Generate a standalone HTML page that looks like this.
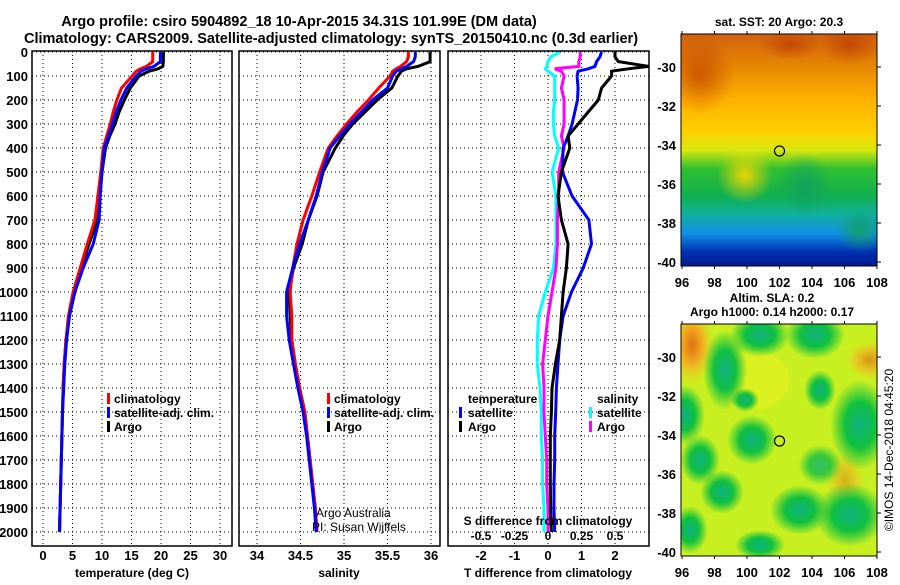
<!DOCTYPE html>
<html><head><meta charset="utf-8"><style>
body{margin:0;background:#fff;}
svg text{font-family:"Liberation Sans",sans-serif;font-weight:bold;}
</style></head><body>
<svg id="c" width="900" height="580" viewBox="0 0 900 580" xmlns="http://www.w3.org/2000/svg">
<defs>
<linearGradient id="sstg" x1="0" y1="0" x2="0" y2="1">
<stop offset="0" stop-color="#d06010"/><stop offset="0.15" stop-color="#e88a00"/><stop offset="0.28" stop-color="#ffb000"/><stop offset="0.42" stop-color="#ffd000"/><stop offset="0.5" stop-color="#d8e810"/><stop offset="0.58" stop-color="#30c030"/><stop offset="0.7" stop-color="#10b050"/><stop offset="0.78" stop-color="#10b0a0"/><stop offset="0.86" stop-color="#1090e8"/><stop offset="0.94" stop-color="#0030b0"/><stop offset="1" stop-color="#001a90"/>
</linearGradient>
<radialGradient id="gb"><stop offset="0" stop-color="#10b080"/><stop offset="0.5" stop-color="#10c040"/><stop offset="1" stop-color="#10c040" stop-opacity="0"/></radialGradient>
<radialGradient id="ob"><stop offset="0" stop-color="#e07010"/><stop offset="0.5" stop-color="#f0b020"/><stop offset="1" stop-color="#f0d020" stop-opacity="0"/></radialGradient>
<radialGradient id="rb"><stop offset="0" stop-color="#b83000" stop-opacity="0.6"/><stop offset="1" stop-color="#b83000" stop-opacity="0"/></radialGradient>
<radialGradient id="yb"><stop offset="0" stop-color="#ffd800" stop-opacity="0.9"/><stop offset="1" stop-color="#ffd800" stop-opacity="0"/></radialGradient>
<radialGradient id="gs"><stop offset="0" stop-color="#10a060" stop-opacity="0.9"/><stop offset="1" stop-color="#10a060" stop-opacity="0"/></radialGradient>
<clipPath id="cp1"><rect x="32" y="51" width="200" height="495"/></clipPath>
<clipPath id="cp2"><rect x="239" y="51" width="201" height="495"/></clipPath>
<clipPath id="cp3"><rect x="448" y="51" width="201" height="495"/></clipPath>
<clipPath id="cm1"><rect x="681" y="34" width="196" height="232"/></clipPath>
<clipPath id="cm2"><rect x="681" y="324" width="196" height="232"/></clipPath>
</defs>
<text x="299" y="26" font-size="14.5" text-anchor="middle">Argo profile: csiro 5904892_18 10-Apr-2015 34.31S 101.99E (DM data)</text>
<text x="331" y="43" font-size="14.5" text-anchor="middle">Climatology: CARS2009. Satellite-adjusted climatology: synTS_20150410.nc (0.3d earlier)</text>
<g id="grid"></g>
<g id="lines"></g>
<g id="frames"></g>
<g id="labels"></g>
<g font-size="12">
<rect x="107" y="393" width="3" height="11" fill="#f00"/><text x="114" y="403">climatology</text>
<rect x="107" y="407" width="3" height="11" fill="#00f"/><text x="114" y="417">satellite-adj. clim.</text>
<rect x="107" y="421" width="3" height="11" fill="#000"/><text x="114" y="431">Argo</text>
</g>
<g font-size="12">
<rect x="327" y="393" width="3" height="11" fill="#f00"/><text x="334" y="403">climatology</text>
<rect x="327" y="407" width="3" height="11" fill="#00f"/><text x="334" y="417">satellite-adj. clim.</text>
<rect x="327" y="421" width="3" height="11" fill="#000"/><text x="334" y="431">Argo</text>
</g>
<g font-size="12">
<text x="316" y="517" style="font-weight:normal">Argo Australia</text>
<text x="312" y="531" style="font-weight:normal">PI: Susan Wijffels</text>
</g>
<g font-size="12">
<text x="468" y="403">temperature</text>
<rect x="459" y="407" width="3" height="11" fill="#00f"/><text x="468" y="417">satellite</text>
<rect x="459" y="421" width="3" height="11" fill="#000"/><text x="468" y="431">Argo</text>
<text x="597" y="403">salinity</text>
<rect x="589" y="407" width="3" height="11" fill="#0ff"/><text x="597" y="417">satellite</text>
<rect x="589" y="421" width="3" height="11" fill="#f0f"/><text x="597" y="431">Argo</text>
</g>
<text x="548" y="525" font-size="12" text-anchor="middle">S difference from climatology</text>
<g>
<rect x="681" y="34" width="196" height="232" fill="url(#sstg)"/>
<g clip-path="url(#cm1)">
<ellipse cx="700" cy="75" rx="35" ry="40" fill="url(#rb)"/>
<ellipse cx="850" cy="45" rx="30" ry="20" fill="url(#rb)"/>
<ellipse cx="790" cy="45" rx="30" ry="15" fill="url(#rb)"/>
<ellipse cx="805" cy="185" rx="28" ry="32" fill="url(#gs)"/>
<ellipse cx="745" cy="175" rx="28" ry="28" fill="url(#yb)"/>
<ellipse cx="860" cy="230" rx="25" ry="22" fill="url(#gs)"/>
</g>
<circle cx="779.5" cy="151" r="5" fill="none" stroke="#000" stroke-width="1.2"/>
<rect x="681" y="34" width="196" height="232" fill="none" stroke="#000"/>
</g>
<text x="779" y="26" font-size="12" text-anchor="middle">sat. SST: 20 Argo: 20.3</text>
<g>
<rect x="681" y="324" width="196" height="232" fill="#c8f020"/>
<g clip-path="url(#cm2)">
<ellipse cx="692" cy="345" rx="22" ry="40" fill="url(#ob)"/>
<ellipse cx="870" cy="360" rx="25" ry="20" fill="url(#ob)" opacity="0.7"/>
<ellipse cx="845" cy="480" rx="20" ry="30" fill="url(#ob)" opacity="0.5"/>
<ellipse cx="750" cy="380" rx="40" ry="30" fill="#e8f020" opacity="0.6"/>
<ellipse cx="725" cy="370" rx="22" ry="40" fill="url(#gb)"/>
<ellipse cx="760" cy="335" rx="30" ry="22" fill="url(#gb)"/>
<ellipse cx="815" cy="335" rx="30" ry="24" fill="url(#gb)"/>
<ellipse cx="685" cy="415" rx="20" ry="30" fill="url(#gb)"/>
<ellipse cx="752" cy="440" rx="25" ry="25" fill="url(#gb)"/>
<ellipse cx="860" cy="425" rx="30" ry="45" fill="url(#gb)"/>
<ellipse cx="820" cy="390" rx="16" ry="20" fill="url(#gb)"/>
<ellipse cx="745" cy="400" rx="14" ry="12" fill="url(#gb)"/>
<ellipse cx="700" cy="460" rx="20" ry="25" fill="url(#gb)"/>
<ellipse cx="722" cy="492" rx="22" ry="22" fill="url(#gb)"/>
<ellipse cx="850" cy="515" rx="35" ry="32" fill="url(#gb)"/>
<ellipse cx="800" cy="510" rx="30" ry="25" fill="url(#gb)"/>
<ellipse cx="690" cy="530" rx="18" ry="24" fill="url(#gb)"/>
<ellipse cx="820" cy="465" rx="22" ry="20" fill="url(#gb)" opacity="0.8"/>
<ellipse cx="760" cy="545" rx="25" ry="15" fill="url(#gb)"/>
</g>
<circle cx="779.5" cy="441" r="5" fill="none" stroke="#000" stroke-width="1.2"/>
<rect x="681" y="324" width="196" height="232" fill="none" stroke="#000"/>
</g>
<text x="772" y="302" font-size="12" text-anchor="middle">Altim. SLA: 0.2</text>
<text x="772" y="316" font-size="12" text-anchor="middle">Argo h1000: 0.14 h2000: 0.17</text>
<text transform="translate(893,450) rotate(-90)" font-size="12" text-anchor="middle" style="font-weight:normal">©IMOS 14-Dec-2018 04:45:20</text>
<g id="maplabels"></g>
</svg>
<script>
const depths=[0,20,40,60,70,80,100,150,200,250,300,350,400,500,600,700,800,900,1000,1100,1200,1300,1400,1500,1600,1700,1800,1900,2000];
const tClim=[18.6,18.6,18.6,17.5,16.5,15.8,15.1,13.3,12.5,11.9,11.4,10.8,10.2,9.8,9.3,8.8,7.5,6.3,5.1,4.3,3.9,3.6,3.4,3.3,3.2,3.1,3.0,2.9,2.8];
const tSat=[19.9,19.9,19.9,18.8,17.5,16.6,15.8,14.2,13.2,12.4,11.8,11.1,10.4,10.0,9.7,9.5,8.5,6.8,5.4,4.5,4.0,3.7,3.5,3.3,3.2,3.1,3.0,2.9,2.8];
const tArgo=[20.4,20.4,20.4,20.3,19.5,18.0,16.3,14.8,13.8,12.9,12.2,11.3,10.6,10.0,9.6,9.2,7.8,6.5,5.3,4.4,3.9,3.6,3.4,3.3,3.2,3.1,3.0,2.9,2.8];
const sClim=[35.74,35.74,35.72,35.65,35.6,35.56,35.53,35.4,35.28,35.15,35.03,34.92,34.82,34.72,34.63,34.53,34.46,34.41,34.38,34.4,34.4,34.44,34.49,34.55,34.58,34.61,34.64,34.67,34.69];
const sSat=[35.82,35.82,35.8,35.72,35.66,35.6,35.56,35.5,35.33,35.2,35.07,34.95,34.84,34.75,34.68,34.59,34.49,34.41,34.34,34.34,34.37,34.42,34.47,34.53,34.57,34.6,34.63,34.66,34.68];
const sArgo=[35.99,35.99,35.99,35.85,35.72,35.66,35.62,35.55,35.38,35.24,35.1,34.99,34.9,34.76,34.69,34.59,34.52,34.42,34.37,34.38,34.4,34.44,34.49,34.55,34.58,34.61,34.64,34.67,34.69];
const dTSat=[1.6,1.55,1.45,1.4,1.2,0.9,0.87,0.9,0.88,0.8,0.72,0.6,0.45,0.43,0.72,1.22,1.3,1.05,0.7,0.45,0.35,0.3,0.25,0.23,0.2,0.2,0.18,0.18,0.2];
const dTArgo=[2.0,2.0,2.1,3.0,2.4,1.9,1.9,1.6,1.5,1.2,0.9,0.6,0.65,0.4,0.3,0.4,0.6,0.55,0.45,0.4,0.35,0.22,0.12,0.1,0.07,0.07,0.07,0.08,0.1];
const dSSat=[0.09,0.02,0.0,-0.01,-0.02,0.0,0.05,0.05,0.05,0.04,0.04,0.05,0.08,0.03,0.06,0.06,0.06,0.04,-0.02,-0.07,-0.08,-0.08,-0.06,-0.05,-0.05,-0.04,-0.04,-0.03,-0.03];
const dSArgo=[0.24,0.24,0.23,0.23,0.05,0.1,0.12,0.1,0.12,0.12,0.12,0.1,0.12,0.08,0.08,0.07,0.07,0.06,0.03,0.0,-0.02,-0.04,-0.03,-0.03,-0.02,-0.01,-0.01,0.0,0.0];
const depthTicks=[0,100,200,300,400,500,600,700,800,900,1000,1100,1200,1300,1400,1500,1600,1700,1800,1900,2000];
const tTicks=[0,5,10,15,20,25,30];
const sTicks=[34,34.5,35,35.5,36];
const dTTicks=[-2,-1,0,1,2];
const dSTickLabels=["-0.5","-0.25","0","0.25","0.5"];
const dSTickVals=[-0.5,-0.25,0,0.25,0.5];
const latTicks=[-30,-32,-34,-36,-38,-40];
const lonTicks=[96,98,100,102,104,106,108];

const NS='http://www.w3.org/2000/svg';
const yD=d=>52+d*0.24;
const xT=t=>43+t*5.9;
const xS=s=>257+(s-34)*87;
const xDT=d=>548+d*33.5;
const xDS=s=>548+s*134;
function mk(tag,attrs,parent){const e=document.createElementNS(NS,tag);for(const k in attrs)e.setAttribute(k,attrs[k]);parent.appendChild(e);return e;}
const grid=document.getElementById('grid'),lines=document.getElementById('lines'),frames=document.getElementById('frames'),labels=document.getElementById('labels');
const panels=[{x0:32,x1:232,clip:'cp1',ticks:tTicks,fx:xT,name:'temperature'},{x0:239,x1:440,clip:'cp2',ticks:sTicks,fx:xS,name:'salinity'},{x0:448,x1:649,clip:'cp3',ticks:dTTicks,fx:xDT,name:'difference'}];
panels.forEach(p=>{
  depthTicks.forEach(d=>{const l=mk('line',{x1:p.x0,x2:p.x1,y1:yD(d),y2:yD(d),stroke:'#000','stroke-width':1,'stroke-dasharray':'1,3'},grid);
    
    });
  p.ticks.forEach(v=>{const l=mk('line',{x1:p.fx(v),x2:p.fx(v),y1:51,y2:546,stroke:'#000','stroke-width':1,'stroke-dasharray':'1,3'},grid);
    
    });
  const r=mk('rect',{x:p.x0,y:51,width:p.x1-p.x0,height:495,fill:'none',stroke:'#000','stroke-width':1.5},frames);
  
  
});
depthTicks.forEach(d=>{const t=mk('text',{x:28,y:yD(d)+5,'font-size':13,'text-anchor':'end'},labels);t.textContent=d;
  
  });
function tick(x,y,txt,name,fs){const t=mk('text',{x:x,y:y,'font-size':fs||13,'text-anchor':'middle'},labels);t.textContent=txt;
  
  }
tTicks.forEach(v=>tick(xT(v),560,v,'temperature-tick-label'));
sTicks.forEach(v=>tick(xS(v),560,v,'salinity-tick-label'));
dTTicks.forEach(v=>tick(xDT(v),560,v,'t-diff-tick-label'));
dSTickVals.forEach((v,i)=>tick(xDS(v),540,dSTickLabels[i],'s-diff-tick-label',12));
tick(132,577,'temperature (deg C)','temperature-axis-title',12);
tick(339,577,'salinity','salinity-axis-title',12);
tick(548,577,'T difference from climatology','t-diff-axis-title',12);
function series(vals,fx,color,clip,name){
  const pts=vals.map((v,i)=>fx(v).toFixed(1)+','+yD(depths[i]).toFixed(1)).join(' ');
  const pl=mk('polyline',{points:pts,fill:'none',stroke:color,'stroke-width':3,'clip-path':'url(#'+clip+')'},lines);
  
  
}
series(tArgo,xT,'#000','cp1','temp-argo-line');
series(tClim,xT,'#f00','cp1','temp-climatology-line');
series(tSat,xT,'#00f','cp1','temp-satellite-line');
series(sArgo,xS,'#000','cp2','sal-argo-line');
series(sClim,xS,'#f00','cp2','sal-climatology-line');
series(sSat,xS,'#00f','cp2','sal-satellite-line');
series(dSSat,xDS,'#0ff','cp3','s-diff-satellite-line');
series(dSArgo,xDS,'#f0f','cp3','s-diff-argo-line');
series(dTSat,xDT,'#00f','cp3','t-diff-satellite-line');
series(dTArgo,xDT,'#000','cp3','t-diff-argo-line');
const ml=document.getElementById('maplabels');
[[34,67,266],[324,357,556]].forEach(([top,lat30,bot],mi)=>{
  latTicks.forEach(v=>{const y=lat30+(-30-v)*19.5;const t=mk('text',{x:676,y:y+5,'font-size':13,'text-anchor':'end'},ml);t.textContent=v;
    
    
    mk('line',{x1:877,x2:881,y1:y,y2:y,stroke:'#000'},ml);});
  lonTicks.forEach(v=>{const x=682+(v-96)*16.25;const t=mk('text',{x:x,y:bot+21,'font-size':13,'text-anchor':'middle'},ml);t.textContent=v;
    
    
    mk('line',{x1:x,x2:x,y1:top-3,y2:top,stroke:'#000'},ml);mk('line',{x1:x,x2:x,y1:bot,y2:bot+3,stroke:'#000'},ml);});
});
</script>
</body></html>
